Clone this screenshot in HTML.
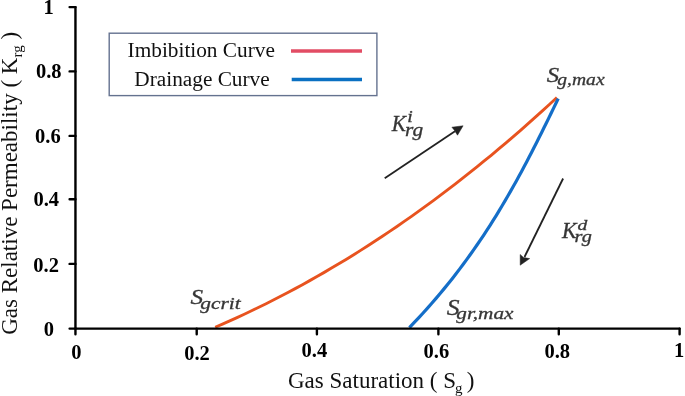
<!DOCTYPE html>
<html><head><meta charset="utf-8"><style>
html,body{margin:0;padding:0;background:#fff;width:685px;height:396px;overflow:hidden}
svg{display:block;filter:blur(0.5px)}
text{font-family:"Liberation Serif",serif}
.tk{font-weight:bold;font-size:20.5px;fill:#000}
.ttl{font-size:23px;fill:#111}
.lg{font-size:21.3px;fill:#111}
.m{font-style:italic;fill:#363636}
</style></head><body>
<svg width="685" height="396" viewBox="0 0 685 396">
<rect width="685" height="396" fill="#fff"/>
<g class="tk" text-anchor="middle">
<text x="48.5" y="13.8">1</text>
<text x="48.7" y="77.9">0.8</text>
<text x="47.85" y="143.1">0.6</text>
<text x="46.25" y="205.9">0.4</text>
<text x="46.1" y="271.8">0.2</text>
<text x="48.9" y="335.6">0</text>
<text x="76.35" y="358.9">0</text>
<text x="197" y="359.8">0.2</text>
<text x="314.4" y="356.7">0.4</text>
<text x="436.4" y="358.2">0.6</text>
<text x="557.3" y="358.2">0.8</text>
<text x="679" y="356.8">1</text>
</g>
<text class="ttl" x="288" y="387.8">Gas Saturation ( S<tspan font-size="15" dy="5" dx="-1">g</tspan><tspan dy="-5" dx="-1.4"> )</tspan></text>
<text class="ttl" transform="translate(17,334.8) rotate(-90)">Gas Relative Permeability ( K<tspan font-size="15" dy="5">rg</tspan><tspan dy="-5"> )</tspan></text>
<rect x="109.2" y="33.2" width="267.7" height="62.4" fill="#fff" stroke="#64728f" stroke-width="1.4"/>
<text class="lg" x="127.6" y="56.6">Imbibition Curve</text>
<text class="lg" x="134.3" y="85.8">Drainage Curve</text>
<path d="M291,51 H362" stroke="#e24c64" stroke-width="3.4"/>
<path d="M291.7,79.5 H362" stroke="#0a70c2" stroke-width="3.4"/>
<path d="M215.20,327.24 L222.47,324.09 L229.74,320.87 L237.01,317.57 L244.28,314.21 L251.55,310.77 L258.82,307.26 L266.09,303.68 L273.36,300.03 L280.63,296.30 L287.90,292.50 L295.17,288.62 L302.44,284.67 L309.71,280.64 L316.98,276.55 L324.25,272.37 L331.52,268.12 L338.79,263.80 L346.06,259.40 L353.33,254.92 L360.60,250.37 L367.87,245.74 L375.14,241.03 L382.41,236.24 L389.69,231.38 L396.96,226.44 L404.23,221.42 L411.50,216.33 L418.77,211.15 L426.04,205.90 L433.31,200.57 L440.58,195.15 L447.85,189.66 L455.12,184.09 L462.39,178.43 L469.66,172.70 L476.93,166.89 L484.20,160.99 L491.47,155.01 L498.74,148.95 L506.01,142.81 L513.28,136.59 L520.55,130.28 L527.82,123.89 L535.09,117.42 L542.36,110.86 L549.63,104.22 L556.90,97.50" fill="none" stroke="#e8531f" stroke-width="2.9" stroke-linecap="butt" stroke-linejoin="round"/>
<path d="M409.40,327.60 L414.07,322.73 L418.64,317.86 L423.12,312.98 L427.51,308.11 L431.80,303.24 L436.02,298.37 L440.14,293.49 L444.19,288.62 L448.15,283.75 L452.03,278.88 L455.84,274.00 L459.57,269.13 L463.22,264.26 L466.81,259.39 L470.33,254.51 L473.77,249.64 L477.16,244.77 L480.48,239.90 L483.74,235.03 L486.94,230.15 L490.08,225.28 L493.16,220.41 L496.20,215.54 L499.18,210.66 L502.11,205.79 L504.99,200.92 L507.83,196.05 L510.63,191.17 L513.38,186.30 L516.10,181.43 L518.77,176.56 L521.42,171.69 L524.03,166.81 L526.60,161.94 L529.15,157.07 L531.67,152.20 L534.17,147.32 L536.64,142.45 L539.09,137.58 L541.53,132.71 L543.94,127.83 L546.34,122.96 L548.73,118.09 L551.11,113.22 L553.48,108.34 L555.84,103.47 L558.20,98.60" fill="none" stroke="#146ec8" stroke-width="3.2" stroke-linecap="butt" stroke-linejoin="round"/>
<g stroke="#000" stroke-width="2.4" fill="none" stroke-linecap="round" stroke-linejoin="round">
<path d="M75.45,7.1 V328.6 H679.6"/>
<path d="M69.6,7.1 H75.45 M69.6,71.4 H75.45 M69.6,135.9 H75.45 M69.6,199.2 H75.45 M69.6,263.9 H75.45 M69.6,328.6 H75.45"/>
<path d="M75.45,328.6 V334.2 M196.7,328.6 V334.2 M316.9,328.6 V334.2 M438.4,328.6 V334.2 M558.8,328.6 V334.2 M679.6,328.6 V334.2"/>
</g>
<g fill="#222" stroke="#222">
<path d="M384.7,178.3 L455,131.3" stroke-width="1.8" fill="none"/>
<path d="M463.1,125.8 L451.9,127.2 L454.2,130 L457.5,135.2 Z" stroke-width="0.5"/>
<path d="M563.1,178.5 L524.5,257" stroke-width="1.8" fill="none"/>
<path d="M520.2,265.2 L520.2,254.5 L523.5,257.5 L529.7,258.6 Z" stroke-width="0.5"/>
</g>
<g class="m" stroke="#363636" stroke-width="0.3" lengthAdjust="spacingAndGlyphs">
<text x="546.8" y="82.2" font-size="21" textLength="12.3" lengthAdjust="spacingAndGlyphs">S</text>
<text x="557.3" y="85.1" font-size="17.3" textLength="47.3" lengthAdjust="spacingAndGlyphs">g,max</text>
<text x="190.4" y="304.4" font-size="22" textLength="12.6" lengthAdjust="spacingAndGlyphs">S</text>
<text x="200.2" y="308.5" font-size="17.3" textLength="40.5" lengthAdjust="spacingAndGlyphs">gcrit</text>
<text x="446.8" y="314.8" font-size="22.5" textLength="12.8" lengthAdjust="spacingAndGlyphs">S</text>
<text x="456.3" y="318.6" font-size="17.4" textLength="57.2" lengthAdjust="spacingAndGlyphs">gr,max</text>
<text x="391.8" y="131.1" font-size="23" textLength="14.2" lengthAdjust="spacingAndGlyphs">K</text>
<text x="407.3" y="122.2" font-size="16.7" textLength="5.5" lengthAdjust="spacingAndGlyphs">i</text>
<text x="405" y="135.9" font-size="17.9" textLength="18.2" lengthAdjust="spacingAndGlyphs">rg</text>
<text x="561.9" y="237.8" font-size="22.6" textLength="14.6" lengthAdjust="spacingAndGlyphs">K</text>
<text x="577.6" y="229.8" font-size="15" textLength="9.8" lengthAdjust="spacingAndGlyphs">d</text>
<text x="574.5" y="242.3" font-size="17.3" textLength="17.3" lengthAdjust="spacingAndGlyphs">rg</text>
</g>
</svg>
</body></html>
